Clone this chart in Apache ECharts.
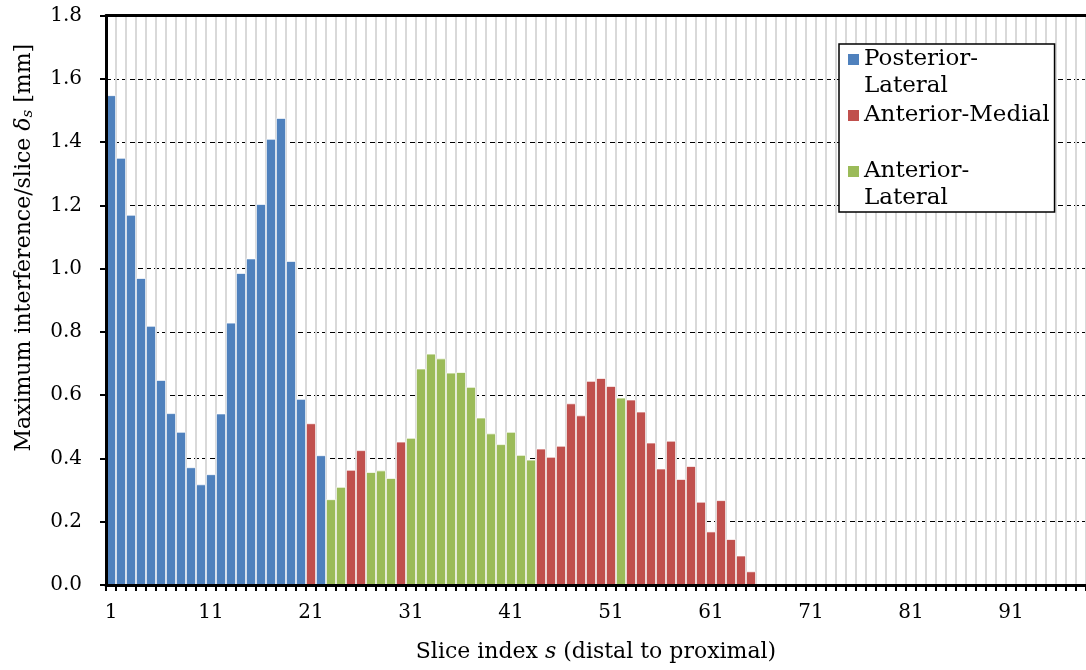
<!DOCTYPE html>
<html>
<head>
<meta charset="utf-8">
<script src="https://cdn.jsdelivr.net/npm/echarts@6/dist/echarts.min.js"></script>
<style>html,body{margin:0;padding:0;background:#fff}#c{width:1086px;height:670px}</style>
</head>
<body>
<div id="c"></div>
<script>
// slice index categories (1..98)
const categories = Array.from({length: 98}, (_, i) => String(i + 1));
// maximum interference per slice (mm), slices 1..65
const sliceValues = [
  1.548, 1.350, 1.170, 0.970, 0.819, 0.648, 0.543, 0.484, 0.372, 0.318,
  0.350, 0.542, 0.829, 0.986, 1.032, 1.204, 1.410, 1.476, 1.024, 0.588,
  0.511, 0.410, 0.271, 0.310, 0.364, 0.426, 0.357, 0.362, 0.338, 0.453,
  0.465, 0.684, 0.731, 0.716, 0.671, 0.673, 0.626, 0.529, 0.479, 0.445,
  0.484, 0.411, 0.396, 0.431, 0.405, 0.440, 0.574, 0.536, 0.645, 0.654,
  0.629, 0.592, 0.586, 0.548, 0.450, 0.368, 0.456, 0.335, 0.376, 0.263,
  0.169, 0.268, 0.145, 0.093, 0.043
];
// region of each slice: P = Posterior-Lateral, M = Anterior-Medial, L = Anterior-Lateral
const sliceRegion = [
  'P','P','P','P','P','P','P','P','P','P',
  'P','P','P','P','P','P','P','P','P','P',
  'M','P','L','L','M','M','L','L','L','M',
  'L','L','L','L','L','L','L','L','L','L',
  'L','L','L','M','M','M','M','M','M','M',
  'M','L','M','M','M','M','M','M','M','M',
  'M','M','M','M','M'
];
const seriesNames = ['Posterior-Lateral', 'Anterior-Medial', 'Anterior-Lateral'];
const seriesCodes = ['P', 'M', 'L'];
const seriesColors = ['#4F81BD', '#C0504D', '#9BBB59'];
const legendLabels = ['Posterior-\nLateral', 'Anterior-Medial\n ', 'Anterior-\nLateral'];
const yTicks = {min: 0, max: 1.8, interval: 0.2};

const FONT = 'DejaVu Serif';
const chart = echarts.init(document.getElementById('c'), null, {renderer: 'canvas'});

const series = seriesCodes.map((code, k) => ({
  name: seriesNames[k],
  type: 'bar',
  xAxisIndex: 0,
  yAxisIndex: 0,
  barGap: '-100%',
  barCategoryGap: '0%',
  itemStyle: {color: seriesColors[k], borderColor: 'rgba(255,255,255,0.9)', borderWidth: 0.8},
  emphasis: {disabled: true},
  data: categories.map((c, i) => (i < sliceValues.length && sliceRegion[i] === code) ? sliceValues[i] : '-'),
  z: 2
}));

const option = {
  animation: false,
  backgroundColor: '#ffffff',
  textStyle: {fontFamily: FONT, color: '#000'},
  grid: {left: 106, right: 0, top: 15.5, bottom: 85, containLabel: false, outerBoundsMode: 'none'},
  legend: {
    orient: 'vertical',
    left: 839, top: 44,
    padding: [2, 5, 0, 9],
    itemGap: 2,
    itemWidth: 11, itemHeight: 54,
    icon: 'path://M0,0L0,0M0,8h11v11h-11zM0,54L0,54',
    itemStyle: {borderWidth: 0},
    backgroundColor: '#ffffff',
    borderColor: '#000000',
    borderWidth: 1.5,
    borderRadius: 0,
    selectedMode: false,
    textStyle: {fontFamily: FONT, fontSize: 23, lineHeight: 27, color: '#000'},
    formatter: function (name) { return legendLabels[seriesNames.indexOf(name)]; },
    data: seriesNames
  },
  xAxis: [
    {
      type: 'category', data: categories, position: 'bottom', z: 3,
      boundaryGap: true,
      axisLine: {show: true, lineStyle: {color: '#000', width: 3}},
      axisTick: {show: true, interval: 0, length: 6, lineStyle: {color: '#000', width: 2}},
      axisLabel: {interval: 9, margin: 18, fontFamily: FONT, fontSize: 20, color: '#000'},
      splitLine: {show: false},
      name: '{a|Slice index }{i|s}{a| (distal to proximal)}',
      nameLocation: 'middle', nameGap: 56, nameMoveOverlap: false,
      nameTextStyle: {
        rich: {
          a: {fontFamily: FONT, fontSize: 22, color: '#000'},
          i: {fontFamily: FONT, fontSize: 22, fontStyle: 'italic', color: '#000'}
        }
      }
    },
    {
      type: 'category', data: categories, position: 'top', z: 1,
      boundaryGap: true,
      axisLine: {show: true, onZero: false, lineStyle: {color: '#000', width: 3}},
      axisTick: {show: false},
      axisLabel: {show: false},
      splitLine: {show: true, interval: 0, lineStyle: {color: '#d9d9d9', width: 2}}
    }
  ],
  yAxis: [
    {
      type: 'value', min: yTicks.min, max: yTicks.max, interval: yTicks.interval, z: 0,
      axisLine: {show: false}, axisTick: {show: false}, axisLabel: {show: false},
      splitLine: {show: true, lineStyle: {color: '#000', width: 1.2, type: [5, 3]}}
    },
    {
      type: 'value', min: yTicks.min, max: yTicks.max, interval: yTicks.interval, z: 3,
      position: 'left',
      axisLine: {show: true, onZero: false, lineStyle: {color: '#000', width: 3}},
      axisTick: {show: true, length: 6, lineStyle: {color: '#000', width: 2}},
      axisLabel: {margin: 24, fontFamily: FONT, fontSize: 20, color: '#000',
        formatter: function (v) { return v.toFixed(1); }},
      splitLine: {show: false},
      name: '{a|Maximum interference/slice }{i|δ}{s|s}{a| [mm]}',
      nameLocation: 'middle', nameGap: 70, nameRotate: 90, nameMoveOverlap: false,
      nameTextStyle: {
        padding: [0, 0, 0, 105],
        rich: {
          a: {fontFamily: FONT, fontSize: 22, color: '#000'},
          i: {fontFamily: FONT, fontSize: 22, fontStyle: 'italic', color: '#000'},
          s: {fontFamily: FONT, fontSize: 15, fontStyle: 'italic', color: '#000', verticalAlign: 'bottom', padding: [8, 0, 0, 0]}
        }
      }
    }
  ],
  series: series
};
chart.setOption(option);
</script>
</body>
</html>
